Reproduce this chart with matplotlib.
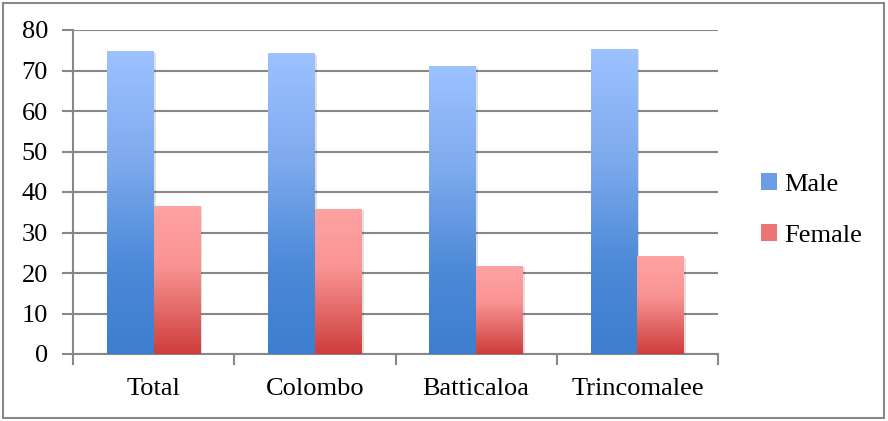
import numpy as np
import matplotlib.pyplot as plt
from matplotlib.colors import LinearSegmentedColormap
from matplotlib.patches import Rectangle

categories = ['Total', 'Colombo', 'Batticaloa', 'Trincomalee']
male = [74.6, 74.1, 71.1, 75.3]
female = [36.5, 35.8, 21.7, 24.0]

plt.rcParams['font.family'] = ['Liberation Serif', 'DejaVu Serif']

# gradients go from the bottom (0) to the top (1) of each bar
male_cmap = LinearSegmentedColormap.from_list(
    'male', [(0, '#3d7ecf'), (0.3, '#4d8ad8'), (0.65, '#7fabee'), (1, '#9cc2ff')])
female_cmap = LinearSegmentedColormap.from_list(
    'female', [(0, '#cf3d3b'), (0.3, '#e26a68'), (0.6, '#fa9494'), (1, '#ffa2a2')])

fig = plt.figure(figsize=(8.88, 4.21), dpi=100)
ax = fig.add_axes([73 / 888, 1 - 354 / 421, 645 / 888, 324 / 421])

x = np.arange(len(categories))
w = 0.29
grad = np.linspace(0, 1, 256).reshape(-1, 1)


def gradient_bars(xs, vals, cmap):
    bars = ax.bar(xs, vals, w, color='none', edgecolor='none', zorder=3)
    for b in bars:
        x0, h = b.get_x(), b.get_height()
        # soft shadow
        ax.add_patch(Rectangle((x0 + 0.012, -0.3), w, h, facecolor='#000000',
                               alpha=0.12, edgecolor='none', zorder=2.5))
        ax.imshow(grad, cmap=cmap, origin='lower', aspect='auto',
                  extent=(x0, x0 + w, 0, h), zorder=3)
    return bars


gradient_bars(x - w / 2, male, male_cmap)
gradient_bars(x + w / 2, female, female_cmap)

ax.set_xlim(-0.5, len(categories) - 0.5)
ax.set_ylim(0, 80)
ax.set_yticks(range(0, 81, 10))
ax.set_xticks(x)
ax.set_xticklabels(categories)
ax.set_xticks(np.arange(-0.5, len(categories)), minor=True)
ax.tick_params(axis='x', which='major', length=0, pad=17, labelsize=19)
ax.tick_params(axis='x', which='minor', length=8, width=1.5, color='#888888')
ax.tick_params(axis='y', length=8, width=1.5, color='#888888', pad=10, labelsize=19)
ax.yaxis.grid(True, color='#888888', linewidth=1.5, zorder=0)
ax.set_axisbelow(True)
for s in ['top', 'right']:
    ax.spines[s].set_visible(False)
for s in ['left', 'bottom']:
    ax.spines[s].set_color('#888888')
    ax.spines[s].set_linewidth(1.5)

# legend
handles = [Rectangle((0, 0), 1, 1, facecolor='#6b9ce6', edgecolor='none'),
           Rectangle((0, 0), 1, 1, facecolor='#ec7474', edgecolor='none')]
fig.legend(handles, ['Male', 'Female'], loc='center left',
           bbox_to_anchor=(737 / 888, 1 - 210 / 421), frameon=False,
           fontsize=19, handlelength=0.6, handleheight=0.6,
           handletextpad=0.3, labelspacing=1.05)

# outer frame
fig.patches.append(Rectangle((3 / 888, 3 / 421), 881 / 888, 415 / 421,
                             transform=fig.transFigure, fill=False,
                             edgecolor='#888888', linewidth=1.5))

fig.savefig('out.png', dpi=100)
